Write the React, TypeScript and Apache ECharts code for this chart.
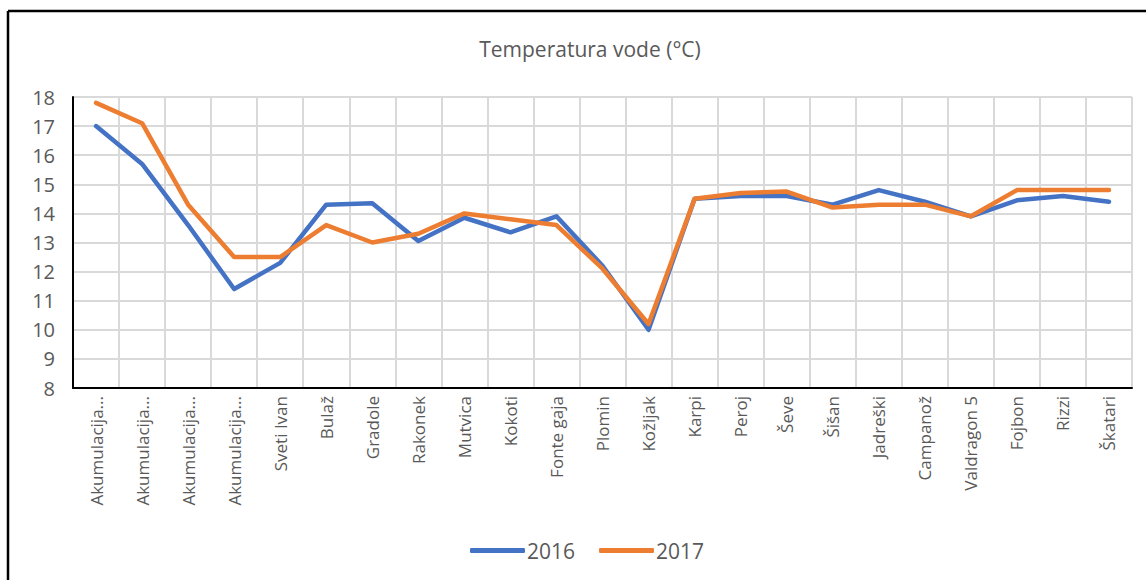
import React, { useEffect, useRef } from "react";
import * as echarts from "echarts";

const categories = [
  "Akumulacija...", "Akumulacija...", "Akumulacija...", "Akumulacija...",
  "Sveti Ivan", "Bulaž", "Gradole", "Rakonek", "Mutvica", "Kokoti", "Fonte gaja",
  "Plomin", "Kožljak", "Karpi", "Peroj", "Ševe", "Šišan", "Jadreški", "Campanož",
  "Valdragon 5", "Fojbon", "Rizzi", "Škatari",
];
const values2016 = [17.0, 15.7, 13.6, 11.4, 12.3, 14.3, 14.35, 13.05, 13.85, 13.35, 13.9, 12.2, 10.0, 14.5, 14.6, 14.6, 14.3, 14.8, 14.4, 13.9, 14.45, 14.6, 14.4];
const values2017 = [17.8, 17.1, 14.3, 12.5, 12.5, 13.6, 13.0, 13.3, 14.0, 13.8, 13.6, 12.1, 10.2, 14.5, 14.7, 14.75, 14.2, 14.3, 14.3, 13.9, 14.8, 14.8, 14.8];
const seriesNames = ["2016", "2017"];
const title = "Temperatura vode (°C)";

const FONT = "'Open Sans', sans-serif";
const TEXT = "#595959";

export default function App() {
  const ref = useRef<HTMLDivElement>(null);
  useEffect(() => {
    if (!ref.current) return;
    const chart = echarts.init(ref.current, null, { renderer: "svg" });
    chart.setOption({
      animation: false,
      backgroundColor: "#ffffff",
      title: {
        text: title,
        left: 585,
        textAlign: "center",
        top: 33,
        textStyle: { color: TEXT, fontFamily: FONT, fontSize: 21, fontWeight: "normal" },
      },
      graphic: [
        { type: "line", shape: { x1: 8, y1: 11, x2: 1146, y2: 11 }, style: { stroke: "#000", lineWidth: 2.5 } },
        { type: "line", shape: { x1: 8, y1: 11, x2: 8, y2: 580 }, style: { stroke: "#000", lineWidth: 2.5 } },
      ],
      legend: {
        data: seriesNames,
        left: 465,
        top: 535,
        itemWidth: 55,
        itemHeight: 5,
        itemGap: 24,
        icon: "roundRect",
        textStyle: { color: TEXT, fontFamily: FONT, fontSize: 21, padding: [0, 0, 0, -3] },
      },
      grid: { left: 73, right: 14, top: 97, bottom: 192, containLabel: false },
      xAxis: {
        type: "category",
        data: categories,
        boundaryGap: true,
        axisLine: { lineStyle: { color: "#000", width: 2 } },
        axisTick: { show: false },
        splitLine: { show: true, lineStyle: { color: "#d9d9d9", width: 2 } },
        axisLabel: {
          rotate: 90,
          interval: 0,
          margin: 8,
          color: TEXT,
          fontFamily: FONT,
          fontSize: 17,
        },
      },
      yAxis: {
        type: "value",
        min: 8,
        max: 18,
        interval: 1,
        axisLine: { show: true, lineStyle: { color: "#000", width: 2 } },
        axisTick: { show: false },
        splitLine: { show: true, lineStyle: { color: "#d9d9d9", width: 2 } },
        axisLabel: { color: TEXT, fontFamily: FONT, fontSize: 20, margin: 18 },
      },
      series: [
        {
          name: seriesNames[0],
          type: "line",
          data: values2016,
          showSymbol: false,
          symbol: "none",
          itemStyle: { color: "#4472C4" },
          lineStyle: { color: "#4472C4", width: 4.5, cap: "round", join: "round" },
        },
        {
          name: seriesNames[1],
          type: "line",
          data: values2017,
          showSymbol: false,
          symbol: "none",
          itemStyle: { color: "#ED7D31" },
          lineStyle: { color: "#ED7D31", width: 4.5, cap: "round", join: "round" },
        },
      ],
    });
    return () => chart.dispose();
  }, []);
  return (
    <div
      ref={ref}
      style={{ position: "absolute", left: 0, top: 0, width: 1146, height: 580, background: "#fff" }}
    />
  );
}
